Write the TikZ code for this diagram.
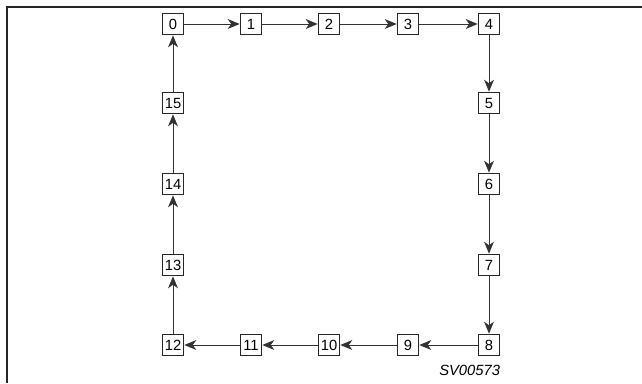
\documentclass[tikz,border=0pt]{standalone}
\usepackage{fontspec}
\setmainfont{Liberation Sans}
\usetikzlibrary{arrows.meta}

\begin{document}
\begin{tikzpicture}[
  x=0.025cm,y=-0.025cm,
  box/.style={draw=black!85,fill=white,line width=0.6pt,minimum size=15.5pt,inner sep=0pt,font=\fontsize{10.5}{12}\selectfont},
  flow/.style={draw=black!80,line width=0.6pt,-{Stealth[length=8.5pt,width=7pt,inset=2.5pt]}}
]
  \useasboundingbox (0,0) rectangle (642,383);
  % frame
  \draw[line width=1.8pt,black!85] (7,383) -- (7,7) -- (642,7);
  % ring of positions
  \node[box] (p0)  at (173,24)  {0};
  \node[box] (p1)  at (251,24)  {1};
  \node[box] (p2)  at (329,24)  {2};
  \node[box] (p3)  at (408,24)  {3};
  \node[box] (p4)  at (489,24)  {4};
  \node[box] (p5)  at (489,103) {5};
  \node[box] (p6)  at (489,184) {6};
  \node[box] (p7)  at (489,265) {7};
  \node[box] (p8)  at (489,345) {8};
  \node[box] (p9)  at (408,345) {9};
  \node[box] (p10) at (329,345) {10};
  \node[box] (p11) at (251,345) {11};
  \node[box] (p12) at (173,345) {12};
  \node[box] (p13) at (173,265) {13};
  \node[box] (p14) at (173,184) {14};
  \node[box] (p15) at (173,103) {15};
  \draw[flow] (p0)--(p1);
  \draw[flow] (p1)--(p2);
  \draw[flow] (p2)--(p3);
  \draw[flow] (p3)--(p4);
  \draw[flow] (p4)--(p5);
  \draw[flow] (p5)--(p6);
  \draw[flow] (p6)--(p7);
  \draw[flow] (p7)--(p8);
  \draw[flow] (p8)--(p9);
  \draw[flow] (p9)--(p10);
  \draw[flow] (p10)--(p11);
  \draw[flow] (p11)--(p12);
  \draw[flow] (p12)--(p13);
  \draw[flow] (p13)--(p14);
  \draw[flow] (p14)--(p15);
  \draw[flow] (p15)--(p0);
  \node[anchor=north east,inner sep=0pt,font=\itshape\fontsize{10.5}{12}\selectfont] (code) at (p8.south east) [yshift=-6pt] {SV00573};
\end{tikzpicture}
\end{document}
